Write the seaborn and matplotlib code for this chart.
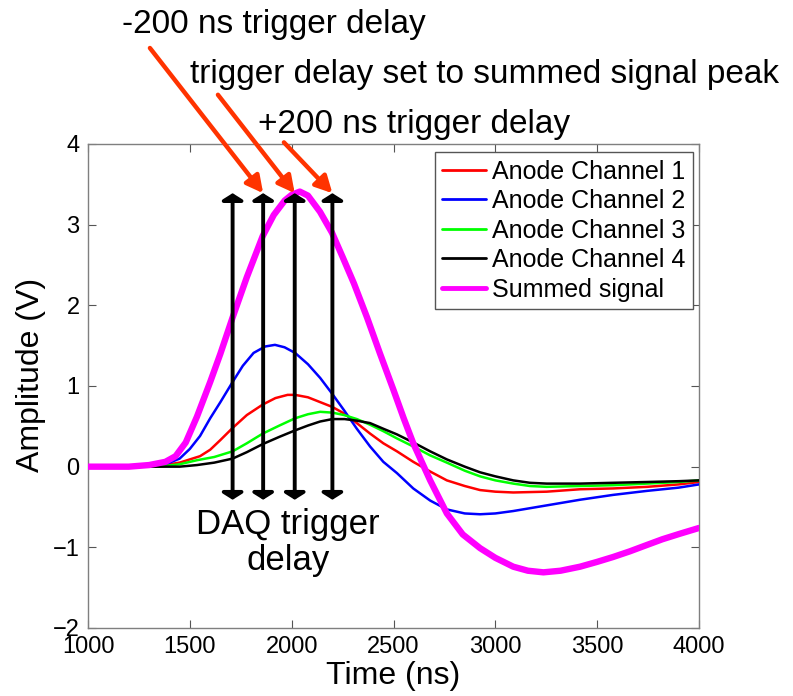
import matplotlib
matplotlib.use("Agg")
import matplotlib.pyplot as plt
import seaborn as sns
import pandas as pd

# Anode pulses read from the scope (time in ns, amplitude in V)
t_ch1 = [1000, 1300, 1400, 1450, 1500, 1550, 1600, 1650, 1710, 1780, 1858, 1920, 1980, 2017, 2080, 2140, 2200, 2257, 2320, 2385, 2450, 2517, 2597, 2680, 2762, 2850, 2925, 3000, 3088, 3252, 3416, 3578, 3745, 3900, 4000]
v_ch1 = [0.0, 0.0, 0.03, 0.05, 0.09, 0.13, 0.21, 0.33, 0.48, 0.64, 0.77, 0.85, 0.89, 0.89, 0.86, 0.80, 0.74, 0.66, 0.54, 0.41, 0.29, 0.19, 0.06, -0.06, -0.17, -0.24, -0.29, -0.31, -0.32, -0.31, -0.28, -0.27, -0.25, -0.22, -0.19]

t_ch2 = [1000, 1300, 1380, 1450, 1500, 1550, 1600, 1650, 1710, 1760, 1813, 1870, 1918, 1965, 2017, 2080, 2140, 2200, 2257, 2320, 2385, 2450, 2517, 2597, 2680, 2762, 2850, 2925, 3000, 3088, 3252, 3416, 3578, 3745, 3900, 4000]
v_ch2 = [0.0, 0.0, 0.03, 0.10, 0.22, 0.38, 0.60, 0.80, 1.05, 1.25, 1.41, 1.49, 1.51, 1.48, 1.41, 1.27, 1.10, 0.90, 0.70, 0.47, 0.25, 0.06, -0.08, -0.27, -0.42, -0.53, -0.58, -0.59, -0.58, -0.55, -0.48, -0.41, -0.35, -0.30, -0.26, -0.22]

t_ch3 = [1000, 1350, 1450, 1535, 1620, 1710, 1780, 1858, 1940, 2017, 2080, 2140, 2200, 2257, 2320, 2385, 2450, 2517, 2597, 2680, 2762, 2850, 2925, 3000, 3088, 3170, 3252, 3416, 3578, 3745, 3900, 4000]
v_ch3 = [0.0, 0.0, 0.03, 0.08, 0.12, 0.19, 0.29, 0.41, 0.51, 0.60, 0.65, 0.68, 0.67, 0.64, 0.59, 0.52, 0.44, 0.35, 0.25, 0.14, 0.05, -0.05, -0.12, -0.17, -0.21, -0.24, -0.25, -0.24, -0.23, -0.21, -0.19, -0.17]

t_ch4 = [1000, 1450, 1535, 1620, 1710, 1780, 1858, 1940, 2017, 2080, 2140, 2200, 2260, 2320, 2385, 2450, 2517, 2597, 2680, 2762, 2850, 2925, 3000, 3088, 3170, 3252, 3416, 3578, 3745, 3900, 4000]
v_ch4 = [0.0, 0.0, 0.02, 0.05, 0.10, 0.18, 0.28, 0.37, 0.45, 0.51, 0.56, 0.59, 0.59, 0.57, 0.54, 0.47, 0.40, 0.30, 0.19, 0.09, 0.0, -0.07, -0.12, -0.17, -0.20, -0.21, -0.21, -0.20, -0.19, -0.18, -0.17]

t_sum = [1000, 1200, 1300, 1380, 1430, 1480, 1535, 1600, 1650, 1710, 1780, 1858, 1912, 1966, 2000, 2040, 2080, 2139, 2198, 2250, 2306, 2370, 2434, 2500, 2550, 2597, 2680, 2762, 2840, 2925, 3000, 3088, 3160, 3236, 3320, 3416, 3500, 3578, 3660, 3745, 3820, 3908, 4000]
v_sum = [0.0, 0.0, 0.02, 0.06, 0.13, 0.30, 0.62, 1.05, 1.40, 1.85, 2.35, 2.86, 3.12, 3.30, 3.37, 3.41, 3.36, 3.16, 2.90, 2.60, 2.27, 1.85, 1.40, 0.95, 0.60, 0.29, -0.17, -0.58, -0.84, -1.01, -1.13, -1.24, -1.29, -1.31, -1.29, -1.24, -1.18, -1.12, -1.05, -0.97, -0.90, -0.83, -0.76]

series_names = ["Anode Channel 1", "Anode Channel 2", "Anode Channel 3", "Anode Channel 4", "Summed signal"]
series_colors = ["#ff0000", "#0000ff", "#00ff00", "#000000", "#ff00ff"]

# DAQ trigger delay positions (ns) and extent of the markers (V)
delay_times = [1710, 1860, 2015, 2200]
delay_top = 3.39
delay_bottom = -0.41

# Callouts: label, tail point (ns, V) and tip point (ns, V)
callout_labels = ["-200 ns trigger delay", "trigger delay set to summed signal peak", "+200 ns trigger delay"]
callout_tails = [(1304, 5.19), (1638, 4.61), (1962, 4.02)]
callout_tips = [(1860, 3.39), (2015, 3.39), (2200, 3.39)]

x_ticks = [1000, 1500, 2000, 2500, 3000, 3500, 4000]
y_ticks = [-2, -1, 0, 1, 2, 3, 4]

sns.set_style("white")
plt.rcParams["font.family"] = ["Liberation Sans", "DejaVu Sans"]
plt.rcParams["text.color"] = "black"
plt.rcParams["axes.labelcolor"] = "black"
plt.rcParams["xtick.color"] = "black"
plt.rcParams["ytick.color"] = "black"

fig = plt.figure(figsize=(7.93, 6.96), dpi=100)
ax = fig.add_axes([88 / 793, 68 / 696, 611 / 793, 484 / 696])

frames = []
for name, t, v in zip(series_names,
                      [t_ch1, t_ch2, t_ch3, t_ch4, t_sum],
                      [v_ch1, v_ch2, v_ch3, v_ch4, v_sum]):
    frames.append(pd.DataFrame({"Time (ns)": t, "Amplitude (V)": v, "series": name}))
data = pd.concat(frames, ignore_index=True)

for name, color in zip(series_names, series_colors):
    sub = data[data["series"] == name]
    lw = 4.6 if name == "Summed signal" else 1.8
    sns.lineplot(data=sub, x="Time (ns)", y="Amplitude (V)", color=color,
                 linewidth=lw, label=name, ax=ax, sort=False, zorder=3)

# double-headed trigger delay markers
for t in delay_times:
    ax.annotate("", xy=(t, delay_top), xytext=(t, delay_bottom),
                arrowprops=dict(arrowstyle="<|-|>,head_length=0.2,head_width=0.32",
                                color="black", lw=2.8, mutation_scale=20,
                                shrinkA=0, shrinkB=0),
                zorder=5)

# red callout arrows
for (tx, ty), (hx, hy) in zip(callout_tails, callout_tips):
    ax.annotate("", xy=(hx, hy), xytext=(tx, ty), xycoords="data", textcoords="data",
                annotation_clip=False,
                arrowprops=dict(arrowstyle="-|>,head_length=0.5,head_width=0.26",
                                color="#ff3300", lw=3.2, mutation_scale=20,
                                shrinkA=0, shrinkB=0),
                zorder=6)

fig.text(122 / 793, 1 - 24 / 696, callout_labels[0], fontsize=24, ha="left", va="center")
fig.text(190 / 793, 1 - 74 / 696, callout_labels[1], fontsize=24, ha="left", va="center")
fig.text(258 / 793, 1 - 124 / 696, callout_labels[2], fontsize=24, ha="left", va="center")

ax.text(1982, -0.94, "DAQ trigger\ndelay", fontsize=25, ha="center", va="center",
        linespacing=1.1, zorder=7)

ax.set_xlim(1000, 4000)
ax.set_ylim(-2, 4)
ax.set_xticks(x_ticks)
ax.set_yticks(y_ticks)
ax.tick_params(axis="both", which="both", direction="in", length=6, width=0.8,
               color="#555555", labelcolor="black", labelsize=17, top=True, right=True,
               bottom=True, left=True)
ax.tick_params(axis="x", pad=6)
ax.tick_params(axis="y", pad=6)
for s in ax.spines.values():
    s.set_color("#7f7f7f")
    s.set_linewidth(1.0)

ax.set_xlabel("Time (ns)", fontsize=23, labelpad=2)
ax.set_ylabel("Amplitude (V)", fontsize=23)
ax.yaxis.set_label_coords(-0.068, 0.523)

leg = ax.legend(loc="upper right", bbox_to_anchor=(0.990, 0.983), borderaxespad=0,
                fontsize=18, handlelength=1.75, handletextpad=0.25, labelspacing=0.22,
                borderpad=0.3, frameon=True, fancybox=False, framealpha=1)
leg.get_frame().set_edgecolor("#555555")
leg.get_frame().set_linewidth(1.0)
for line in leg.get_lines():
    line.set_linewidth(2.0)
leg.get_lines()[-1].set_linewidth(3.5)
for txt in leg.get_texts():
    txt.set_color("black")
leg.set_zorder(10)

fig.savefig("out.png", dpi=100)
